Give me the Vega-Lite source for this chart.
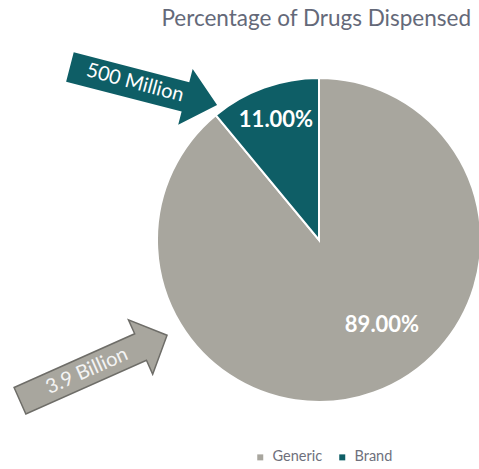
{
  "$schema": "https://vega.github.io/schema/vega-lite/v6.json",
  "width": 479,
  "height": 469,
  "padding": 0,
  "autosize": "none",
  "background": "white",
  "config": {"view": {"stroke": null}},
  "datasets": {
    "pie": [
      {"category": "Generic", "value": 89, "label": "89.00%"},
      {"category": "Brand", "value": 11, "label": "11.00%"}
    ],
    "notes": [
      {"note": "Percentage of Drugs Dispensed", "kind": "title"},
      {"note": "500 Million", "kind": "brand"},
      {"note": "3.9 Billion", "kind": "generic"}
    ]
  },
  "layer": [
    {
      "data": {"name": "pie"},
      "mark": {"type": "arc", "radius": 162, "stroke": "white", "strokeWidth": 2},
      "encoding": {
        "theta": {"field": "value", "type": "quantitative", "stack": true},
        "order": {"field": "value", "sort": "descending"},
        "color": {
          "field": "category",
          "type": "nominal",
          "scale": {"domain": ["Generic", "Brand"], "range": ["#A8A69E", "#0E5E66"]},
          "legend": {
            "orient": "none",
            "legendX": 253,
            "legendY": 450,
            "direction": "horizontal",
            "title": null,
            "symbolType": "square",
            "symbolSize": 36,
            "symbolStrokeWidth": 0,
            "labelFont": "Lato",
            "labelFontSize": 14.5,
            "labelColor": "#6E707C",
            "labelOffset": 5,
            "columnPadding": 12
          }
        },
        "x": {"datum": 319, "type": "quantitative", "scale": {"domain": [0, 479], "nice": false, "zero": false}, "axis": null},
        "y": {"datum": 240, "type": "quantitative", "scale": {"domain": [469, 0], "nice": false, "zero": false}, "axis": null}
      }
    },
    {
      "data": {"name": "pie"},
      "transform": [{"filter": "datum.category === 'Brand'"}],
      "mark": {"type": "text", "font": "Lato", "fontWeight": "bold", "fontSize": 22, "color": "white", "align": "center", "baseline": "middle"},
      "encoding": {
        "text": {"field": "label"},
        "x": {"datum": 276, "type": "quantitative", "axis": null},
        "y": {"datum": 120, "type": "quantitative", "axis": null}
      }
    },
    {
      "data": {"name": "pie"},
      "transform": [{"filter": "datum.category === 'Generic'"}],
      "mark": {"type": "text", "font": "Lato", "fontWeight": "bold", "fontSize": 22, "color": "white", "align": "center", "baseline": "middle"},
      "encoding": {
        "text": {"field": "label"},
        "x": {"datum": 382, "type": "quantitative", "axis": null},
        "y": {"datum": 325, "type": "quantitative", "axis": null}
      }
    },
    {
      "data": {"name": "notes"},
      "transform": [{"filter": "datum.kind === 'brand'"}],
      "mark": {"type": "point", "filled": true, "opacity": 1, "color": "#0E5E66", "size": 23104, "angle": 14.5,
        "shape": "M-1,-0.2L0.57,-0.2L0.57,-0.38L1,0L0.57,0.38L0.57,0.2L-1,0.2Z"},
      "encoding": {
        "x": {"datum": 143.5, "type": "quantitative", "axis": null},
        "y": {"datum": 86, "type": "quantitative", "axis": null}
      }
    },
    {
      "data": {"name": "notes"},
      "transform": [{"filter": "datum.kind === 'generic'"}],
      "mark": {"type": "point", "filled": true, "opacity": 1, "fill": "#A8A69E", "stroke": "#6E6D68", "strokeWidth": 1.5, "size": 25921, "angle": -24,
        "shape": "M-1,-0.18L0.64,-0.18L0.64,-0.37L1,0L0.64,0.37L0.64,0.18L-1,0.18Z"},
      "encoding": {
        "x": {"datum": 93.5, "type": "quantitative", "axis": null},
        "y": {"datum": 368, "type": "quantitative", "axis": null}
      }
    },
    {
      "data": {"name": "notes"},
      "transform": [{"filter": "datum.kind === 'brand'"}],
      "mark": {"type": "text", "font": "Lato", "fontSize": 20, "color": "white", "align": "center", "baseline": "middle", "angle": 15},
      "encoding": {
        "text": {"field": "note"},
        "x": {"datum": 135, "type": "quantitative", "axis": null},
        "y": {"datum": 83, "type": "quantitative", "axis": null}
      }
    },
    {
      "data": {"name": "notes"},
      "transform": [{"filter": "datum.kind === 'generic'"}],
      "mark": {"type": "text", "font": "Lato", "fontSize": 20, "color": "#F4F4F4", "align": "center", "baseline": "middle", "angle": -24},
      "encoding": {
        "text": {"field": "note"},
        "x": {"datum": 87, "type": "quantitative", "axis": null},
        "y": {"datum": 371, "type": "quantitative", "axis": null}
      }
    },
    {
      "data": {"name": "notes"},
      "transform": [{"filter": "datum.kind === 'title'"}],
      "mark": {"type": "text", "font": "Lato", "fontSize": 22.5, "color": "#646979", "align": "right", "baseline": "alphabetic"},
      "encoding": {
        "text": {"field": "note"},
        "x": {"datum": 471, "type": "quantitative", "axis": null},
        "y": {"datum": 26, "type": "quantitative", "axis": null}
      }
    }
  ]
}
